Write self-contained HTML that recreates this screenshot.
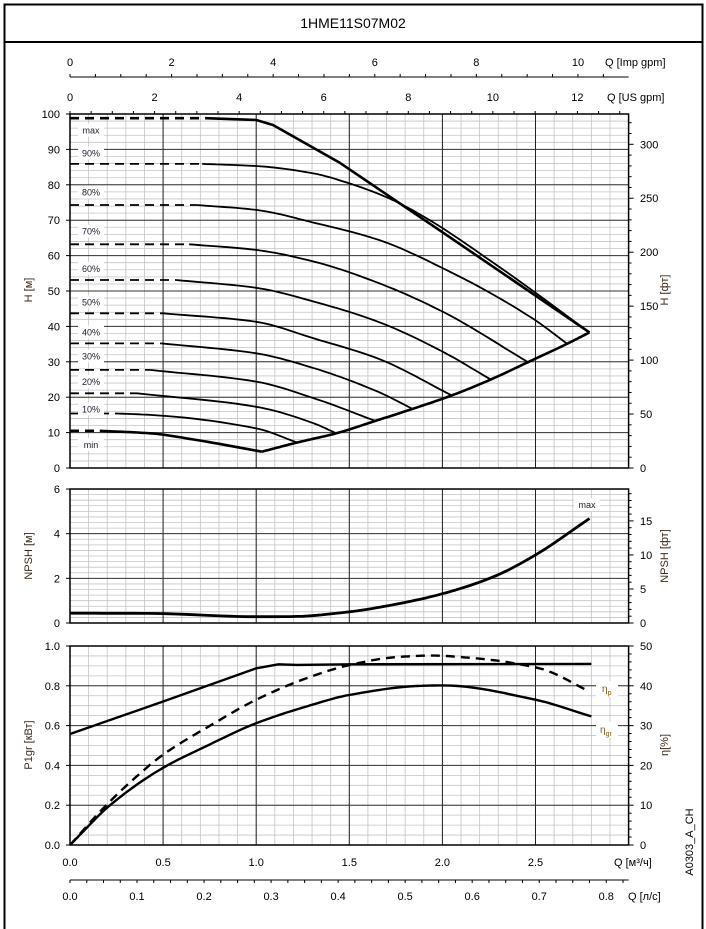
<!DOCTYPE html>
<html><head><meta charset="utf-8"><style>
html,body{margin:0;padding:0;background:#fff}
svg{display:block;font-family:"Liberation Sans",sans-serif}
</style></head><body>
<svg id="chart" width="706" height="929" viewBox="0 0 706 929" xmlns="http://www.w3.org/2000/svg">
<rect x="4.5" y="4.5" width="698" height="940" fill="none" stroke="#000" stroke-width="2"/>
<line x1="4" y1="42" x2="703" y2="42" stroke="#000" stroke-width="2"/>
<text x="353" y="28" font-size="14" text-anchor="middle">1HME11S07M02</text>
<g id="g"></g>
</svg>
<script>
// ---- data (Q in m3/h) ----
const hMaxQ=[0,0.73,1.0,1.09,1.45,2.0,2.79];
const hMaxH=[98.8,98.8,98.3,96.9,86.2,66.6,38.3];
const h90Q=[0,0.71,1.0,1.31,1.5,1.7,1.9,2.3,2.79];
const h90H=[85.9,85.9,85.3,83.2,80.4,76.5,71,57,38.3];
const h80Q=[0,0.68,1.0,1.31,1.66,2.0,2.48,2.67];
const h80H=[74.3,74.3,72.9,69.3,64.4,56.5,42.4,35.1];
const h70Q=[0,0.64,1.0,1.31,1.66,2.0,2.46];
const h70H=[63.2,63.2,61.6,58.3,52.2,44.2,29.9];
const h60Q=[0,0.57,1.0,1.31,1.66,2.0,2.26];
const h60H=[53.1,53.1,50.9,47.0,41.2,32.9,25.0];
const h50Q=[0,0.5,1.0,1.31,1.66,2.05];
const h50H=[43.7,43.7,41.3,36.6,30.8,20.5];
const h40Q=[0,0.49,1.0,1.31,1.66,1.84];
const h40H=[35.2,35.2,32.4,28.2,21.4,16.7];
const h30Q=[0,0.43,1.0,1.31,1.64];
const h30H=[27.7,27.7,24.4,19.7,13.3];
const h20Q=[0,0.36,1.0,1.31,1.43];
const h20H=[21.1,21.1,17.3,12.6,9.8];
const h10Q=[0,0.25,0.43,1.0,1.22];
const h10H=[15.4,15.4,15.0,11.2,7.2];
const hMinQ=[0,0.16,0.43,0.68,1.03];
const hMinH=[10.5,10.5,9.8,7.9,4.6];
const dashEnd=[0.73,0.71,0.68,0.64,0.57,0.5,0.49,0.43,0.36,0.25,0.16];
const curveLabels=["max","90%","80%","70%","60%","50%","40%","30%","20%","10%","min"];
const labelH=[95,88.5,77.5,66.5,56,46.5,38,31.2,24,16.2,6.2];
const envQ=[1.03,1.22,1.43,1.64,1.84,2.05,2.26,2.46,2.67,2.79];
const envH=[4.6,7.2,9.8,13.3,16.7,20.5,25.0,29.9,35.1,38.3];
const npshQ=[0,0.42,1.0,1.2,1.5,1.75,2.0,2.28,2.5,2.79];
const npshV=[0.44,0.43,0.28,0.29,0.50,0.84,1.31,2.09,3.05,4.68];
const p1Q=[0,0.5,1.0,1.12,1.22,1.5,2.8];
const p1V=[0.558,0.721,0.888,0.908,0.905,0.908,0.91];
const etaGrQ=[0,0.22,0.5,0.73,1.0,1.27,1.5,1.89,2.0,2.5,2.8];
const etaGrV=[0,10.2,19.4,24.8,30.6,34.8,37.7,40.0,40.1,36.5,32.3];
const etaPQ=[0,0.18,0.35,0.5,0.76,1.0,1.27,1.5,1.75,1.94,2.18,2.52,2.79];
const etaPV=[0,9.3,16.9,22.7,30.2,36.5,41.9,45.2,47.2,47.6,46.9,44.4,38.6];
const qTicks=[0,0.5,1,1.5,2,2.5];
const impTicks=[0,2,4,6,8,10];
const usTicks=[0,2,4,6,8,10,12];
const lsTicks=[0,0.1,0.2,0.3,0.4,0.5,0.6,0.7,0.8];
const hTicks=[0,10,20,30,40,50,60,70,80,90,100];
const ftTicks=[0,50,100,150,200,250,300];
const npTicks=[0,2,4,6];
const npFtTicks=[0,5,10,15];
const pTicks=[0,0.2,0.4,0.6,0.8,1.0];
const etaTicks=[0,10,20,30,40,50];

// ---- scales ----
const L=70,R=628.6;
const X=q=>L+q*186.2;
const yH=h=>468-h*3.54;
const yN=n=>623-n*22.33;
const yP=p=>845-p*199;
const yE=e=>yP(e/50);
const NS="http://www.w3.org/2000/svg";
const G=document.getElementById('g');
function el(tag,at,parent){const e=document.createElementNS(NS,tag);for(const k in at)e.setAttribute(k,at[k]);(parent||G).appendChild(e);return e;}
function ln(x1,y1,x2,y2,c,w,name){const e=el('line',{x1,y1,x2,y2,stroke:c,'stroke-width':w});

return e;}
function tx(x,y,s,anchor,name,size,fill){const e=el('text',{x,y,'font-size':size||11,'text-anchor':anchor||'middle',fill:fill||'#000'});e.textContent=s;

return e;}
function path(qs,vs,yf,name,w,dash){let d=qs.map((q,i)=>(i?'L':'M')+X(q).toFixed(1)+','+yf(vs[i]).toFixed(1)).join(' ');
const e=el('path',{d,fill:'none',stroke:'#000','stroke-width':w,'stroke-linejoin':'round','stroke-linecap':'butt'});if(dash)e.setAttribute('stroke-dasharray',dash);

return e;}
// monotone cubic (Fritsch-Carlson) densify
function smooth(xs,ys){const n=xs.length;if(n<3)return [xs,ys];
 const d=[],m=[];for(let i=0;i<n-1;i++)d.push((ys[i+1]-ys[i])/(xs[i+1]-xs[i]));
 m[0]=d[0];m[n-1]=d[n-2];
 for(let i=1;i<n-1;i++){if(d[i-1]*d[i]<=0)m[i]=0;else{const w1=2*(xs[i+1]-xs[i])+(xs[i]-xs[i-1]),w2=(xs[i+1]-xs[i])+2*(xs[i]-xs[i-1]);m[i]=(w1+w2)/(w1/d[i-1]+w2/d[i]);}}
 const ox=[],oy=[];
 for(let i=0;i<n-1;i++){const h=xs[i+1]-xs[i];for(let k=0;k<12;k++){const t=k/12,t2=t*t,t3=t2*t;
  ox.push(xs[i]+t*h);
  oy.push((2*t3-3*t2+1)*ys[i]+(t3-2*t2+t)*h*m[i]+(-2*t3+3*t2)*ys[i+1]+(t3-t2)*h*m[i+1]);}}
 ox.push(xs[n-1]);oy.push(ys[n-1]);return [ox,oy];}

function grid(top,bot,yf,minorVals,majorVals,name){
 for(let q=0.1;q<3.0;q+=0.1){ln(X(q),top,X(q),bot,'#c4c4c4',0.8,name+'-vgrid-minor');}
 minorVals.forEach(v=>ln(L,yf(v),R,yf(v),'#c4c4c4',0.8,name+'-hgrid-minor'));
 qTicks.forEach(q=>{if(q>0)ln(X(q),top,X(q),bot,'#222',1,name+'-vgrid-major');});
 majorVals.forEach(v=>ln(L,yf(v),R,yf(v),'#333',1,name+'-hgrid-major'));
 const r=el('rect',{x:L,y:top,width:R-L,height:bot-top,fill:'none',stroke:'#000','stroke-width':1.5});
 
 
}
const hMinor=[];for(let v=2;v<100;v+=2)hMinor.push(v);
grid(yH(100),yH(0),yH,hMinor,hTicks,'head');
const nMinor=[];for(let v=0.25;v<6;v+=0.25)nMinor.push(v);
grid(yN(6),yN(0),yN,nMinor,npTicks,'npsh');
const pMinor=[];for(let v=0.05;v<1;v+=0.05)pMinor.push(v);
grid(yP(1),yP(0),yP,pMinor,pTicks,'power');

hTicks.forEach(v=>{tx(60,yH(v)+4,v,'end','h-tick-label');ln(L-4,yH(v),L,yH(v),'#000',1,'h-tick');});
npTicks.forEach(v=>{tx(60,yN(v)+4,v,'end','npsh-tick-label');ln(L-4,yN(v),L,yN(v),'#000',1,'npsh-tick');});
pTicks.forEach(v=>{tx(60,yP(v)+4,v.toFixed(1),'end','p-tick-label');ln(L-4,yP(v),L,yP(v),'#000',1,'p-tick');});
for(let f=0;f<=320;f+=10){const y=yH(f/3.2808);ln(R,y,R+(f%50?3:5),y,'#000',1,'ft-tick');}
ftTicks.forEach(f=>tx(640,yH(f/3.2808)+4,f,'start','ft-tick-label'));
for(let f=0;f<=19;f+=1){const y=yN(f/3.2808);ln(R,y,R+(f%5?3:5),y,'#000',1,'npsh-ft-tick');}
npFtTicks.forEach(f=>tx(640,yN(f/3.2808)+4,f,'start','npsh-ft-tick-label'));
for(let e=0;e<=50;e+=2){ln(R,yE(e),R+(e%10?3:5),yE(e),'#000',1,'eta-tick');}
etaTicks.forEach(e=>tx(640,yE(e)+4,e,'start','eta-tick-label'));
ln(L,77,R,77,'#000',1,'imp-gpm-axis');
for(let g=0;g<=11;g+=0.5){const x=X(g*0.2728);if(x<=R)ln(x,74,x,77,'#000',1,'imp-gpm-tick');}
impTicks.forEach(g=>tx(X(g*0.2728),66,g,'middle','imp-gpm-label'));
tx(605,66,'Q [Imp gpm]','start','imp-gpm-title');
for(let g=0;g<=13;g+=0.5){const x=X(g*0.2271);if(x<=R)ln(x,yH(100)-3,x,yH(100),'#000',1,'us-gpm-tick');}
usTicks.forEach(g=>tx(X(g*0.2271),101,g,'middle','us-gpm-label'));
tx(607,101,'Q [US gpm]','start','us-gpm-title');
qTicks.forEach(q=>tx(X(q),866,q.toFixed(1),'middle','q-m3h-label'));
tx(614,866,'Q [м³/ч]','start','q-m3h-title');
ln(L,880,R,880,'#000',1,'ls-axis');
for(let s=0;s<=0.83;s+=0.025){ln(X(s*3.6),880,X(s*3.6),883,'#000',1,'ls-tick');}
lsTicks.forEach(s=>tx(X(s*3.6),900,s.toFixed(1),'middle','ls-label'));
tx(628,900,'Q [л/с]','start','ls-title');
function vt(x,y,s,name,col){const e=tx(x,y,s,'middle',name,11,col||'#3a2a1a');e.setAttribute('transform','rotate(-90 '+x+' '+y+')');return e;}
vt(32,290,'H [м]','h-axis-title');
vt(668,290,'H [фт]','h-ft-axis-title');
vt(32,556,'NPSH [м]','npsh-axis-title');
vt(668,556,'NPSH [фт]','npsh-ft-axis-title');
vt(32,745,'P1gr [кВт]','p1-axis-title');
vt(668,745,'η[%]','eta-axis-title');
vt(693,842,'A0303_A_CH','drawing-code','#000');

const HQ=[hMaxQ,h90Q,h80Q,h70Q,h60Q,h50Q,h40Q,h30Q,h20Q,h10Q,hMinQ];
const HH=[hMaxH,h90H,h80H,h70H,h60H,h50H,h40H,h30H,h20H,h10H,hMinH];
HQ.forEach((qs,i)=>{
 const de=dashEnd[i];const w=(i==0||i==10)?2.6:1.8;
 const dq=[],dv=[],sq=[],sv=[];
 qs.forEach((q,j)=>{if(q<=de){dq.push(q);dv.push(HH[i][j]);}if(q>=de){sq.push(q);sv.push(HH[i][j]);}});
 path(dq,dv,yH,'h-curve-'+curveLabels[i]+'-dashed',w,'9,6');
 const s=i==0?[sq,sv]:smooth(sq,sv);
 path(s[0],s[1],yH,'h-curve-'+curveLabels[i],w);
 const ly=yH(labelH[i]);
 const r=el('rect',{x:78,y:ly-8,width:26,height:13,fill:'#fff'});
 
 
 tx(91,ly+2,curveLabels[i],'middle','curve-label-'+curveLabels[i],9,'#223');
});
const env=smooth(envQ,envH);path(env[0],env[1],yH,'min-flow-envelope',2.6);
const ns=smooth(npshQ,npshV);path(ns[0],ns[1],yN,'npsh-curve',2.8);
const rb=el('rect',{x:574,y:498,width:26,height:13,fill:'#fff'});


tx(587,508,'max','middle','npsh-max-label',9,'#223');
path(p1Q,p1V,yP,'p1-curve',2.4);
const eg=smooth(etaGrQ,etaGrV);path(eg[0],eg[1],yE,'eta-gr-curve',2.4);
const ep=smooth(etaPQ,etaPV);path(ep[0],ep[1],yE,'eta-p-curve',2.4,'9,6');
const b1=el('rect',{x:596,y:681,width:22,height:16,fill:'#fff'});


const b2=el('rect',{x:596,y:722,width:22,height:16,fill:'#fff'});


const t1=tx(602,692,'η','start','eta-p-label',10,'#8a5a10');const s1=el('tspan',{'font-size':7,dy:3},t1);s1.textContent='p';
const t2=tx(600,733,'η','start','eta-gr-label',10,'#8a5a10');const s2=el('tspan',{'font-size':7,dy:3},t2);s2.textContent='gr';
</script>
</body></html>
